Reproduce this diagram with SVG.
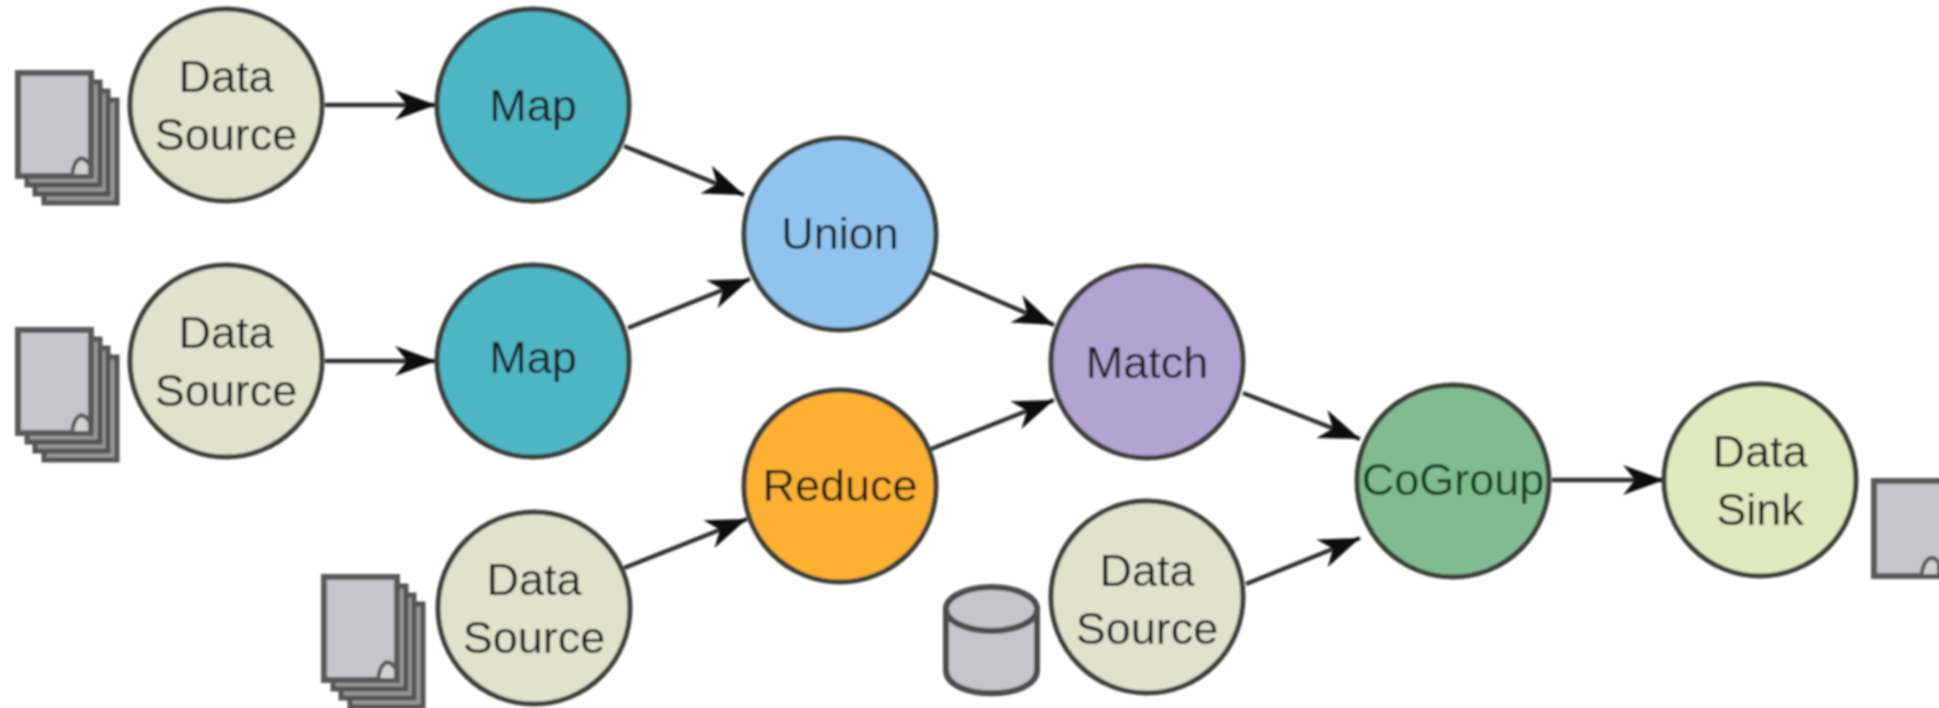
<svg xmlns="http://www.w3.org/2000/svg" xmlns:xlink="http://www.w3.org/1999/xlink" width="1939" height="708" viewBox="0 0 1939 708">
<style>
.n{stroke:#3c3f3a;stroke-width:5}
text{font-family:"Liberation Sans",Arial,sans-serif;font-size:45px;fill:#1f1f1f;text-anchor:middle}
.c line{stroke:#333;stroke-width:4.500;marker-end:url(#a)}
.pg{fill:#9a9a9c;stroke:#555;stroke-width:5}
.pf{fill:#c6c5cb;stroke:#5a5a5a;stroke-width:6}
.fold{fill:#d2d2d2;stroke:#5a5a5a;stroke-width:4}
</style>
<defs>
<filter id="b" x="0" y="0" width="1939" height="708" filterUnits="userSpaceOnUse" primitiveUnits="userSpaceOnUse"><feGaussianBlur stdDeviation="1"/></filter>
<marker id="a" markerUnits="userSpaceOnUse" markerWidth="46" markerHeight="34" refX="44" refY="17" orient="auto"><path d="M3 2L44 17L3 32L15 17Z" fill="#0c0c0c"/></marker>
<g id="stack">
<rect class="pg" x="27" y="9" width="73" height="103" transform="translate(17,18)"/>
<rect class="pg" x="27" y="9" width="73" height="103" transform="translate(8,9)"/>
<rect class="pg" x="27" y="9" width="73" height="103"/>
<rect class="pf" x="18" y="0" width="73" height="103"/>
<path class="fold" d="M72 103C74 85 82 80 90 92V103Z"/>
</g>
</defs>
<rect width="1939" height="708" fill="#fff"/>
<g filter="url(#b)">
<g id="connectors" class="c">
<line x1="325" y1="105" x2="436" y2="105"/>
<line x1="325" y1="361" x2="436" y2="361"/>
<line x1="624" y1="146" x2="744" y2="195"/>
<line x1="628" y1="328" x2="750" y2="279"/>
<line x1="931" y1="272" x2="1054" y2="325"/>
<line x1="931" y1="449" x2="1054" y2="400"/>
<line x1="624" y1="568" x2="747" y2="519"/>
<line x1="1243" y1="393" x2="1360" y2="439"/>
<line x1="1246" y1="584" x2="1360" y2="538"/>
<line x1="1552" y1="480" x2="1664" y2="480"/>
</g>
<g id="source-1"><use href="#stack" x="0" y="73"/><circle class="n" cx="226" cy="105" r="96" fill="#e0e2cc"/><text x="226" y="92">Data</text><text x="226" y="150">Source</text></g>
<g id="map-1"><circle class="n" cx="533" cy="105" r="96" fill="#4db6c4"/><text x="533" y="121">Map</text></g>
<g id="union"><circle class="n" cx="840" cy="234" r="96" fill="#90c4ef"/><text x="840" y="249">Union</text></g>
<g id="source-2"><use href="#stack" x="0" y="330"/><circle class="n" cx="226" cy="361" r="96" fill="#e0e2cc"/><text x="226" y="348">Data</text><text x="226" y="406">Source</text></g>
<g id="map-2"><circle class="n" cx="533" cy="361" r="96" fill="#4db6c4"/><text x="533" y="373">Map</text></g>
<g id="reduce"><circle class="n" cx="840" cy="486" r="96" fill="#fdb033"/><text x="840" y="501">Reduce</text></g>
<g id="match"><circle class="n" cx="1147" cy="362" r="96" fill="#b3a3d3"/><text x="1147" y="378">Match</text></g>
<g id="source-3"><use href="#stack" x="306" y="577"/><circle class="n" cx="534" cy="608" r="96" fill="#e0e2cc"/><text x="534" y="595">Data</text><text x="534" y="653">Source</text></g>
<g id="source-4"><g id="cylinder"><path d="M946 609V670C946 701 1037 701 1037 670V609Z" fill="#c6c5cb" stroke="#4d4d4d" stroke-width="6"/><ellipse cx="991.5" cy="609" rx="45.500" ry="22" fill="#c6c5cb" stroke="#4d4d4d" stroke-width="6"/></g><circle class="n" cx="1147" cy="597" r="96" fill="#e0e2cc"/><text x="1147" y="586">Data</text><text x="1147" y="644">Source</text></g>
<g id="cogroup"><circle class="n" cx="1453" cy="481" r="96" fill="#81bc91"/><text x="1453" y="495" style="fill:#0f3a1c">CoGroup</text></g>
<g id="sink"><circle class="n" cx="1760" cy="480" r="96" fill="#e0e8bd"/><text x="1760" y="467">Data</text><text x="1760" y="525">Sink</text><g id="sink-doc"><rect class="pf" x="1874" y="481" width="80" height="95"/><path class="fold" d="M1921 576C1924 558 1932 553 1939 563V576Z"/></g></g>
</g>
</svg>
